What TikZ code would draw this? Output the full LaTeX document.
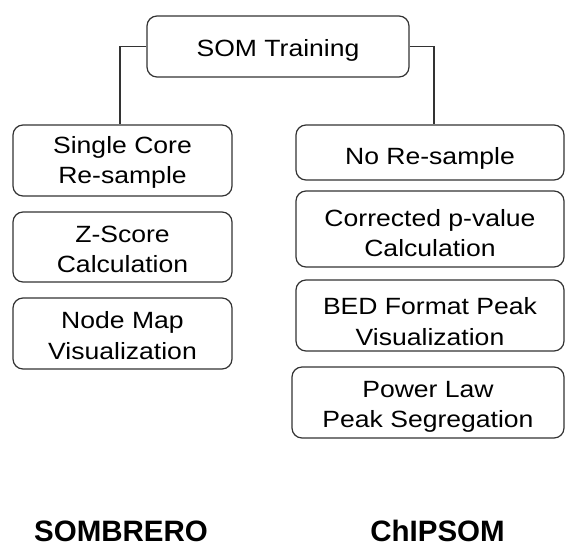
\documentclass[tikz,border=0pt]{standalone}
\usepackage{fontspec}
\setmainfont{Liberation Sans}[FakeStretch=1.13]
\newfontfamily\titlefont{Liberation Sans}[BoldFont={* Bold}]
% invisible strut at the start of a label: lowers the label inside its box by #1
\newcommand{\lowerby}[1]{\rule{0pt}{\dimexpr17.2pt+#1*2\relax}}
\begin{document}
\begin{tikzpicture}[x=1pt,y=-1pt,
  stepbox/.style={draw=black!80, line width=1.2pt, rounded corners=10pt,
    align=center, inner sep=0pt, font=\fontsize{23.5}{30.5}\selectfont},
  link/.style={draw=black!80, line width=1.2pt},
  tool/.style={font=\titlefont\bfseries\fontsize{29.5}{32}\selectfont, anchor=base}]
\useasboundingbox (0,0) rectangle (565,547);

% root
\node[stepbox, minimum width=262pt, minimum height=61pt] (root) at (278,46.5) {\lowerby{4pt}SOM Training};

% SOMBRERO branch
\node[stepbox, minimum width=219pt, minimum height=71pt] (l1) at (122.5,160.5) {\lowerby{2pt}Single Core\\Re-sample};
\node[stepbox, minimum width=219pt, minimum height=70pt] (l2) at (122.5,247) {\lowerby{2pt}Z-Score\\Calculation};
\node[stepbox, minimum width=219pt, minimum height=71pt] (l3) at (122.5,333.5) {\lowerby{2pt}Node Map\\Visualization};

% ChIPSOM branch
\node[stepbox, minimum width=268pt, minimum height=55pt] (r1) at (430,152.5) {\lowerby{6pt}No Re-sample};
\node[stepbox, minimum width=268pt, minimum height=76pt] (r2) at (430,229) {\lowerby{4pt}Corrected p-value\\Calculation};
\node[stepbox, minimum width=268pt, minimum height=71pt] (r3) at (430,315.5) {\lowerby{6pt}BED Format Peak\\Visualization};
\node[stepbox, minimum width=272pt, minimum height=71pt] (r4) at (428,402.5) {\lowerby{4pt}Power Law\\Peak Segregation};

% connectors
\draw[link] (root.west) -| (120,0 |- l1.north);
\draw[link] (root.east) -| (434,0 |- r1.north);

% tool names
\node[tool] (sombrero) at (121,541) {SOMBRERO};
\node[tool] (chipsom) at (437.5,541) {ChIPSOM};
\end{tikzpicture}
\end{document}
